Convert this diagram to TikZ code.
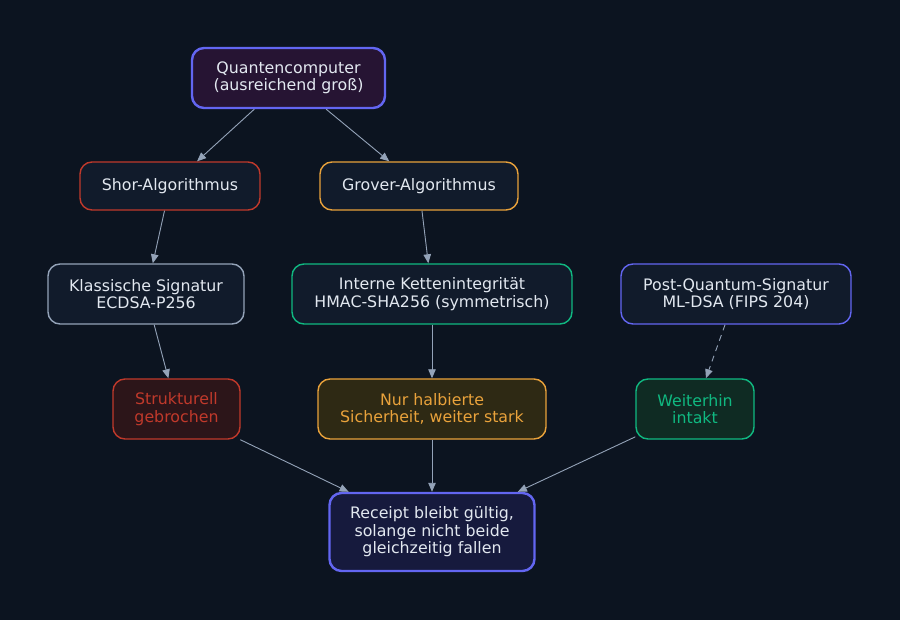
\documentclass[tikz,border=0pt]{standalone}
\usepackage{fontspec}
\setmainfont{DejaVu Sans}
\usetikzlibrary{arrows.meta}
\definecolor{bg}{HTML}{0C1420}
\definecolor{edgec}{HTML}{94A3B8}
\definecolor{txt}{HTML}{E2E8F0}
\definecolor{indigo}{HTML}{6366F1}
\definecolor{redc}{HTML}{C0392B}
\definecolor{orangec}{HTML}{E9A23B}
\definecolor{greenc}{HTML}{10B981}
\definecolor{boxfill}{HTML}{111B2B}
\definecolor{qfill}{HTML}{261433}
\definecolor{redfill}{HTML}{2C1519}
\definecolor{orangefill}{HTML}{2E2914}
\definecolor{greenfill}{HTML}{0F2B23}
\definecolor{rfill}{HTML}{161A3D}
\tikzset{
  box/.style={draw, rounded corners=12pt, fill=boxfill, text=txt, align=center,
    line width=1.4pt, inner sep=0pt, font=\fontsize{15.8}{17.5}\selectfont},
  link/.style={draw=edgec, line width=0.9pt, -{Triangle[length=9pt,width=7.5pt]}},
}
\begin{document}
\begin{tikzpicture}[x=1pt, y=-1pt]
        \fill[bg] (0,0) rectangle (900,620);
        \node[box, draw=indigo, fill=qfill, line width=2.4pt, minimum width=193pt, minimum height=60pt]
          (quanten) at (288.5,78) {Quantencomputer\\(ausreichend groß)};
        \node[box, draw=redc, minimum width=180pt, minimum height=48pt] (shor) at (170,186) {Shor-Algorithmus};
        \node[box, draw=orangec, minimum width=198pt, minimum height=48pt] (grover) at (419,186) {Grover-Algorithmus};
        \node[box, draw=edgec, minimum width=196pt, minimum height=60pt] (klassisch) at (146,294)
          {Klassische Signatur\\ECDSA-P256};
        \node[box, draw=greenc, minimum width=280pt, minimum height=60pt] (intern) at (432,294)
          {Interne Kettenintegrität\\HMAC-SHA256 (symmetrisch)};
        \node[box, draw=indigo, minimum width=230pt, minimum height=60pt] (pq) at (736,294)
          {Post-Quantum-Signatur\\ML-DSA (FIPS 204)};
        \node[box, draw=redc, fill=redfill, text=redc, minimum width=127pt, minimum height=60pt]
          (gebrochen) at (176.5,409) {Strukturell\\gebrochen};
        \node[box, draw=orangec, fill=orangefill, text=orangec, minimum width=228pt, minimum height=60pt]
          (halb) at (432,409) {Nur halbierte\\Sicherheit, weiter stark};
        \node[box, draw=greenc, fill=greenfill, text=greenc, minimum width=118pt, minimum height=60pt]
          (intakt) at (695,409) {Weiterhin\\intakt};
        \node[box, draw=indigo, fill=rfill, line width=2.4pt, minimum width=205pt, minimum height=78pt]
          (receipt) at (432,532) {Receipt bleibt gültig,\\solange nicht beide\\gleichzeitig fallen};
        \draw[link] (quanten) -- (shor);
        \draw[link] (quanten) -- (grover);
        \draw[link] (shor) -- (klassisch);
        \draw[link] (grover) -- (intern);
        \draw[link] (klassisch) -- (gebrochen);
        \draw[link] (intern) -- (halb);
        \draw[link, dash pattern=on 6pt off 5pt] (pq) -- (intakt);
        \foreach \n in {gebrochen, halb, intakt}{
          \draw[link] (\n) -- (receipt);
        }
\end{tikzpicture}
\end{document}
